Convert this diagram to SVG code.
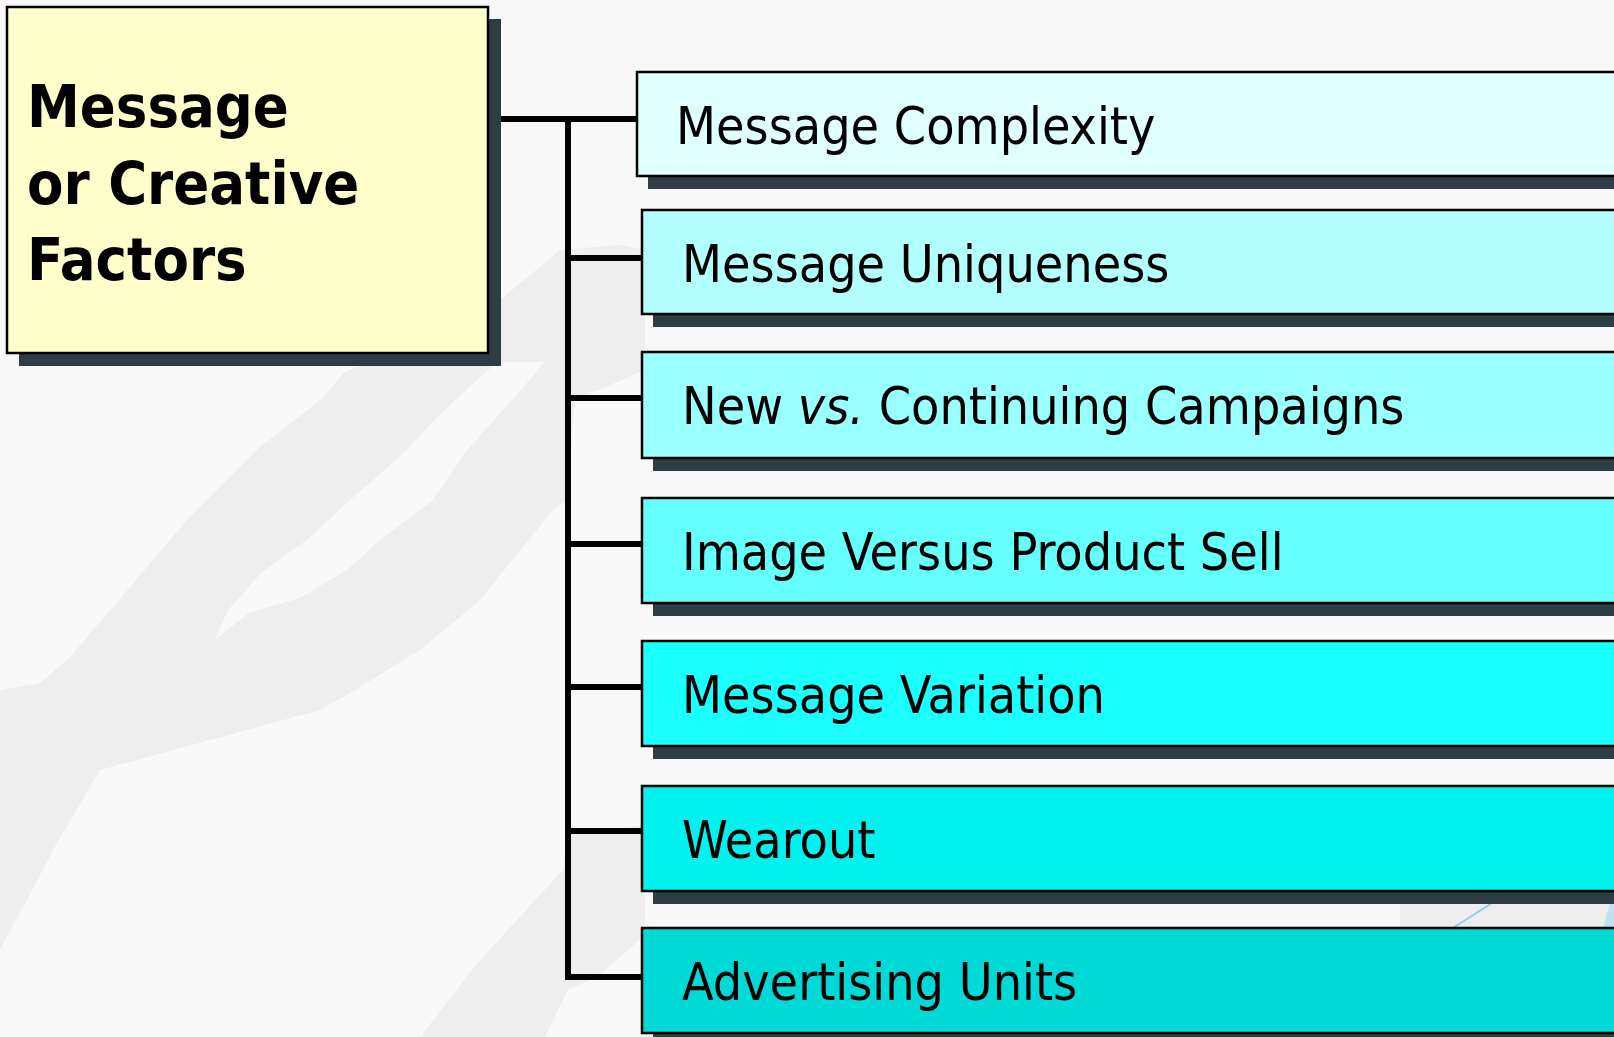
<svg xmlns="http://www.w3.org/2000/svg" width="1614" height="1037" viewBox="0 0 1614 1037">
  <style>
    .page { fill: #f9f9f9; }
    .band { fill: #eeeeee; }
    .lite { fill: #f9f9f9; }
    .shadow { fill: #2e3c43; }
    .box { stroke: #000; stroke-width: 2.5; }
    .wire { fill: none; stroke: #000; stroke-width: 6; stroke-linejoin: miter; }
    .title { font-family: 'DejaVu Sans Condensed', 'DejaVu Sans', sans-serif; font-stretch: condensed; font-weight: bold; font-size: 59px; fill: #000; }
    .label { font-family: 'DejaVu Sans Condensed', 'DejaVu Sans', sans-serif; font-stretch: condensed; font-size: 51.5px; fill: #000; }
  </style>

  <!-- backdrop with soft diagonal swooshes -->
  <g id="backdrop">
    <rect class="page" x="0" y="0" width="1614" height="1037"/>
    <polygon class="band" points="0,690 40,683 70,657 113,607 187,520 260,447 320,400 345,372 360,366 500,300 560,250 620,245 645,250 645,370 575,400 566,500 553,510 480,600 420,650 350,693 320,710 100,770 57,843 0,950"/>
    <polygon class="lite" points="497,362 437,417 407,450 350,500 307,540 262,572 228,610 215,640 250,612 300,598 347,570 380,540 433,500 467,450 497,417 545,362"/>
    <polygon class="band" points="645,825 571,835 563,870 540,895 480,960 420,1037 545,1037 568,990 600,975 645,935"/>
    <rect class="band" x="1400" y="900" width="214" height="30"/>
    <line x1="1453" y1="928" x2="1492" y2="903" stroke="#8ccfea" stroke-width="2"/>
    <polygon points="1603,928 1610,903 1614,903 1614,928" fill="#bde3f2"/>
  </g>

  <!-- tree connectors -->
  <g id="connectors">
    <path class="wire" d="M500 119 H637"/>
    <path class="wire" d="M568 119 V977 H642"/>
    <path class="wire" d="M568 258 H642 M568 398 H642 M568 544 H642 M568 687 H642 M568 831 H642"/>
  </g>

  <!-- root node -->
  <g id="node-root">
    <rect class="shadow" x="19" y="19" width="482" height="347"/>
    <rect class="box" x="7" y="7" width="481" height="346" fill="#ffffcc"/>
    <text class="title" x="27" y="127">Message</text>
    <text class="title" x="27" y="204">or Creative</text>
    <text class="title" x="27" y="280">Factors</text>
  </g>

  <!-- factor nodes -->
  <g id="node-complexity">
    <rect class="shadow" x="648" y="85" width="1000" height="104"/>
    <rect class="box" x="637" y="72" width="1000" height="104" fill="#e0ffff"/>
    <text class="label" x="676" y="144">Message Complexity</text>
  </g>
  <g id="node-uniqueness">
    <rect class="shadow" x="653" y="223" width="1000" height="104"/>
    <rect class="box" x="642" y="210" width="1000" height="104" fill="#b3ffff"/>
    <text class="label" x="682" y="282">Message Uniqueness</text>
  </g>
  <g id="node-campaigns">
    <rect class="shadow" x="653" y="365" width="1000" height="106"/>
    <rect class="box" x="642" y="352" width="1000" height="106" fill="#99ffff"/>
    <text class="label" x="682" y="424">New <tspan font-style="italic">vs.</tspan> Continuing Campaigns</text>
  </g>
  <g id="node-image">
    <rect class="shadow" x="653" y="511" width="1000" height="105"/>
    <rect class="box" x="642" y="498" width="1000" height="105" fill="#66ffff"/>
    <text class="label" x="682" y="570">Image Versus Product Sell</text>
  </g>
  <g id="node-variation">
    <rect class="shadow" x="653" y="654" width="1000" height="105"/>
    <rect class="box" x="642" y="641" width="1000" height="105" fill="#1affff"/>
    <text class="label" x="682" y="713">Message Variation</text>
  </g>
  <g id="node-wearout">
    <rect class="shadow" x="653" y="799" width="1000" height="105"/>
    <rect class="box" x="642" y="786" width="1000" height="105" fill="#00f2ee"/>
    <text class="label" x="682" y="858">Wearout</text>
  </g>
  <g id="node-units">
    <rect class="shadow" x="653" y="941" width="1000" height="105"/>
    <rect class="box" x="642" y="928" width="1000" height="105" fill="#00d9d5"/>
    <text class="label" x="682" y="1000">Advertising Units</text>
  </g>
</svg>
